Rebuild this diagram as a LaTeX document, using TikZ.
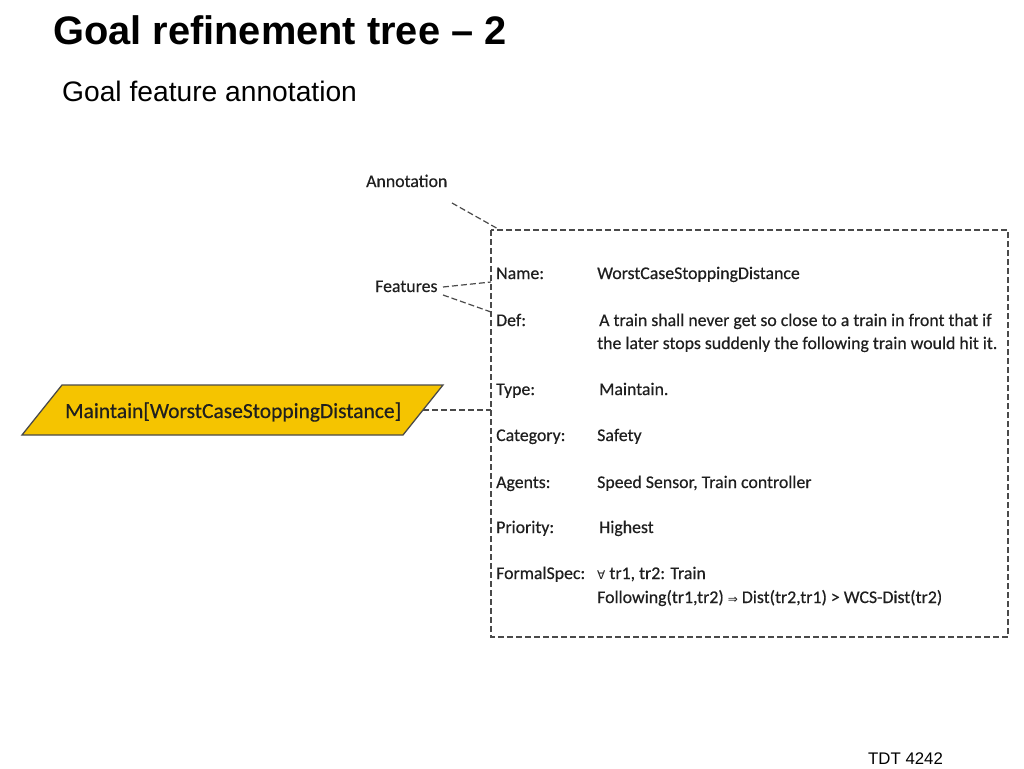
\documentclass[tikz,border=0pt]{standalone}
\usepackage{fontspec}
\setmainfont{Liberation Sans}
\newfontfamily\dfont[FakeBold=0.4]{Carlito}
\newfontfamily\symfont{DejaVu Sans}
\definecolor{goalfill}{HTML}{F5C400}
\definecolor{linegray}{HTML}{4A4A4A}
\tikzset{
  dl/.style={draw=linegray, line width=1.2pt, dash pattern=on 6pt off 3pt},
  lbl/.style={anchor=base west, inner sep=0pt, font=\dfont\fontsize{17.8}{20}\selectfont, text=black!88},
}
\begin{document}
\begin{tikzpicture}[x=1pt,y=-1pt]
\useasboundingbox[fill=white] (0,0) rectangle (1024,768);
\node[anchor=base west, inner sep=0pt, font=\bfseries\fontsize{39.8}{42}\selectfont] (title) at (53,45) {Goal refinement tree -- 2};
\node[anchor=base west, inner sep=0pt, font=\fontsize{28.2}{30}\selectfont] (sub) at (62,101) {Goal feature annotation};
\node[anchor=base west, inner sep=0pt, font=\fontsize{16.8}{18}\selectfont] (foot) at (868,764) {TDT 4242};

% annotation box
\draw[dl] (491,230) rectangle (1008,637);
\coordinate (boxtl) at (500,230);
\coordinate (nameL) at (491,282);
\coordinate (defL) at (491,312);
\coordinate (goalR) at (491,410);
\coordinate (goalE) at (423,410);

\node[lbl] (annot) at (366,187) {Annotation};
\node[lbl] (feat) at (375,292) {Features};
\draw[dl] (452,203) -- (boxtl);
\draw[dl] (443,287) -- (nameL);
\draw[dl] (443,295) -- (defL);

% goal
\draw[draw=linegray, line width=1.3pt, fill=goalfill] (62,385) -- (443,385) -- (403,435) -- (22,435) -- cycle;
\node[font=\dfont\fontsize{21.5}{24}\selectfont, inner sep=0pt, anchor=base west, text=black!88] (goal) at (65,418) {Maintain[WorstCaseStoppingDistance]};
\draw[dl] (goalE) -- (goalR);

% features
\node[lbl] (n1) at (496,279) {Name:};
\node[lbl] (v1) at (597,279) {WorstCaseStoppingDistance};
\node[lbl] (n2) at (496,326) {Def:};
\node[lbl] (v2) at (599,326) {A train shall never get so close to a train in front that if};
\node[lbl] (v2b) at (597,349) {the later stops suddenly the following train would hit it.};
\node[lbl] (n3) at (496,395) {Type:};
\node[lbl] (v3) at (599,395) {Maintain.};
\node[lbl] (n4) at (496,441) {Category:};
\node[lbl] (v4) at (597,441) {Safety};
\node[lbl] (n5) at (496,488) {Agents:};
\node[lbl] (v5) at (597,488) {Speed Sensor, Train controller};
\node[lbl] (n6) at (496,533) {Priority:};
\node[lbl] (v6) at (599,533) {Highest};
\node[lbl] (n7) at (496,579) {FormalSpec:};
\node[lbl] (v7) at (597,579) {{\symfont\fontsize{12}{14}\selectfont ∀} tr1, tr2: Train};
\node[lbl] (v7b) at (597,603) {Following(tr1,tr2) {\symfont\fontsize{12}{14}\selectfont ⇒} Dist(tr2,tr1) > WCS-Dist(tr2)};
\end{tikzpicture}
\end{document}
